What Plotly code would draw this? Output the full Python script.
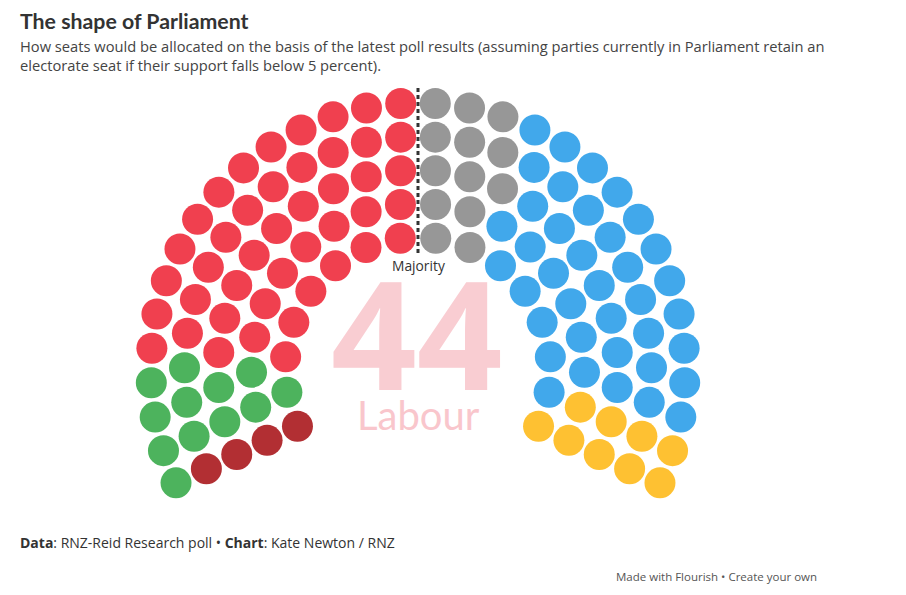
import numpy as np
import plotly.graph_objects as go

# ---- data ----
parties = ["Te Pāti Māori", "Green", "Labour", "NZ First", "National", "ACT"]
seats = [4, 12, 44, 13, 38, 9]
colors = ["#b22f33", "#4db35d", "#f0404f", "#979797", "#41a8eb", "#fec132"]
highlight_party = "Labour"

# ---- parliament layout ----
total = sum(seats)
cx, cy = 418, 370            # hemicycle centre (pixel space)
n_rows = 5
r_in, r_out = 133, 267
radii = np.linspace(r_in, r_out, n_rows)
per_row = np.round(total * radii / radii.sum()).astype(int)
per_row[-1] += total - per_row.sum()
ext = np.deg2rad(25)          # arc extends 25 deg below horizontal on each side
a0, a1 = np.pi + ext, -ext

pts = []
for r, n in zip(radii, per_row):
    for i in range(n):
        a = a0 + (a1 - a0) * i / (n - 1)
        pts.append((round(a, 9), r))
pts.sort(key=lambda p: (-p[0], p[1]))

fig = go.Figure()
idx = 0
for name, n, col in zip(parties, seats, colors):
    chunk = pts[idx: idx + n]
    idx += n
    xs = [cx + r * np.cos(a) for a, r in chunk]
    ys = [cy - r * np.sin(a) for a, r in chunk]
    fig.add_trace(go.Scatter(
        x=xs, y=ys, mode="markers", name=name,
        marker=dict(size=31, color=col, line=dict(width=0)),
        hovertemplate=name + "<extra></extra>", showlegend=False))

# majority line
fig.add_shape(type="line", x0=cx, x1=cx, y0=88, y1=254,
              line=dict(color="#333333", width=3, dash="4px,3px"), layer="above")

body = "Open Sans"
ann = [
    dict(x=18, y=21, text="<b>The shape of Parliament</b>", size=21.3, color="#333333", xanchor="left", family="Lato"),
    dict(x=18, y=46, text="How seats would be allocated on the basis of the latest poll results (assuming parties currently in Parliament retain an",
         size=14.7, color="#444444", xanchor="left", family=body),
    dict(x=18, y=65, text="electorate seat if their support falls below 5 percent).",
         size=14.7, color="#444444", xanchor="left", family=body),
    dict(x=cx, y=265, text="Majority", size=13.8, color="#333333", xanchor="center", family=body),
    dict(x=cx - 1, y=332, text="<b>" + str(seats[parties.index(highlight_party)]) + "</b>", size=150, color="#f9cdd2", xanchor="center", family="Open Sans"),
    dict(x=cx, y=415, text=highlight_party, size=40, color="#f9c6cc", xanchor="center", family="Lato"),
    dict(x=18, y=542, text="<b>Data</b>: RNZ-Reid Research poll • <b>Chart</b>: Kate Newton / RNZ",
         size=14, color="#333333", xanchor="left", family=body),
    dict(x=819, y=576, text="Made with Flourish • Create your own", size=11.5, color="#555555", xanchor="right", family=body),
]
for a in ann:
    f = dict(family=a["family"], size=a["size"], color=a["color"])
    fig.add_annotation(x=a["x"], y=a["y"], xref="x", yref="y", text=a["text"],
                       showarrow=False, xanchor=a["xanchor"], yanchor="middle", font=f)

fig.update_layout(
    width=906, height=595, margin=dict(l=0, r=0, t=0, b=0),
    paper_bgcolor="white", plot_bgcolor="white",
    xaxis=dict(range=[0, 906], visible=False, fixedrange=True),
    yaxis=dict(range=[595, 0], visible=False, fixedrange=True),
)
fig.write_html("out.html")
